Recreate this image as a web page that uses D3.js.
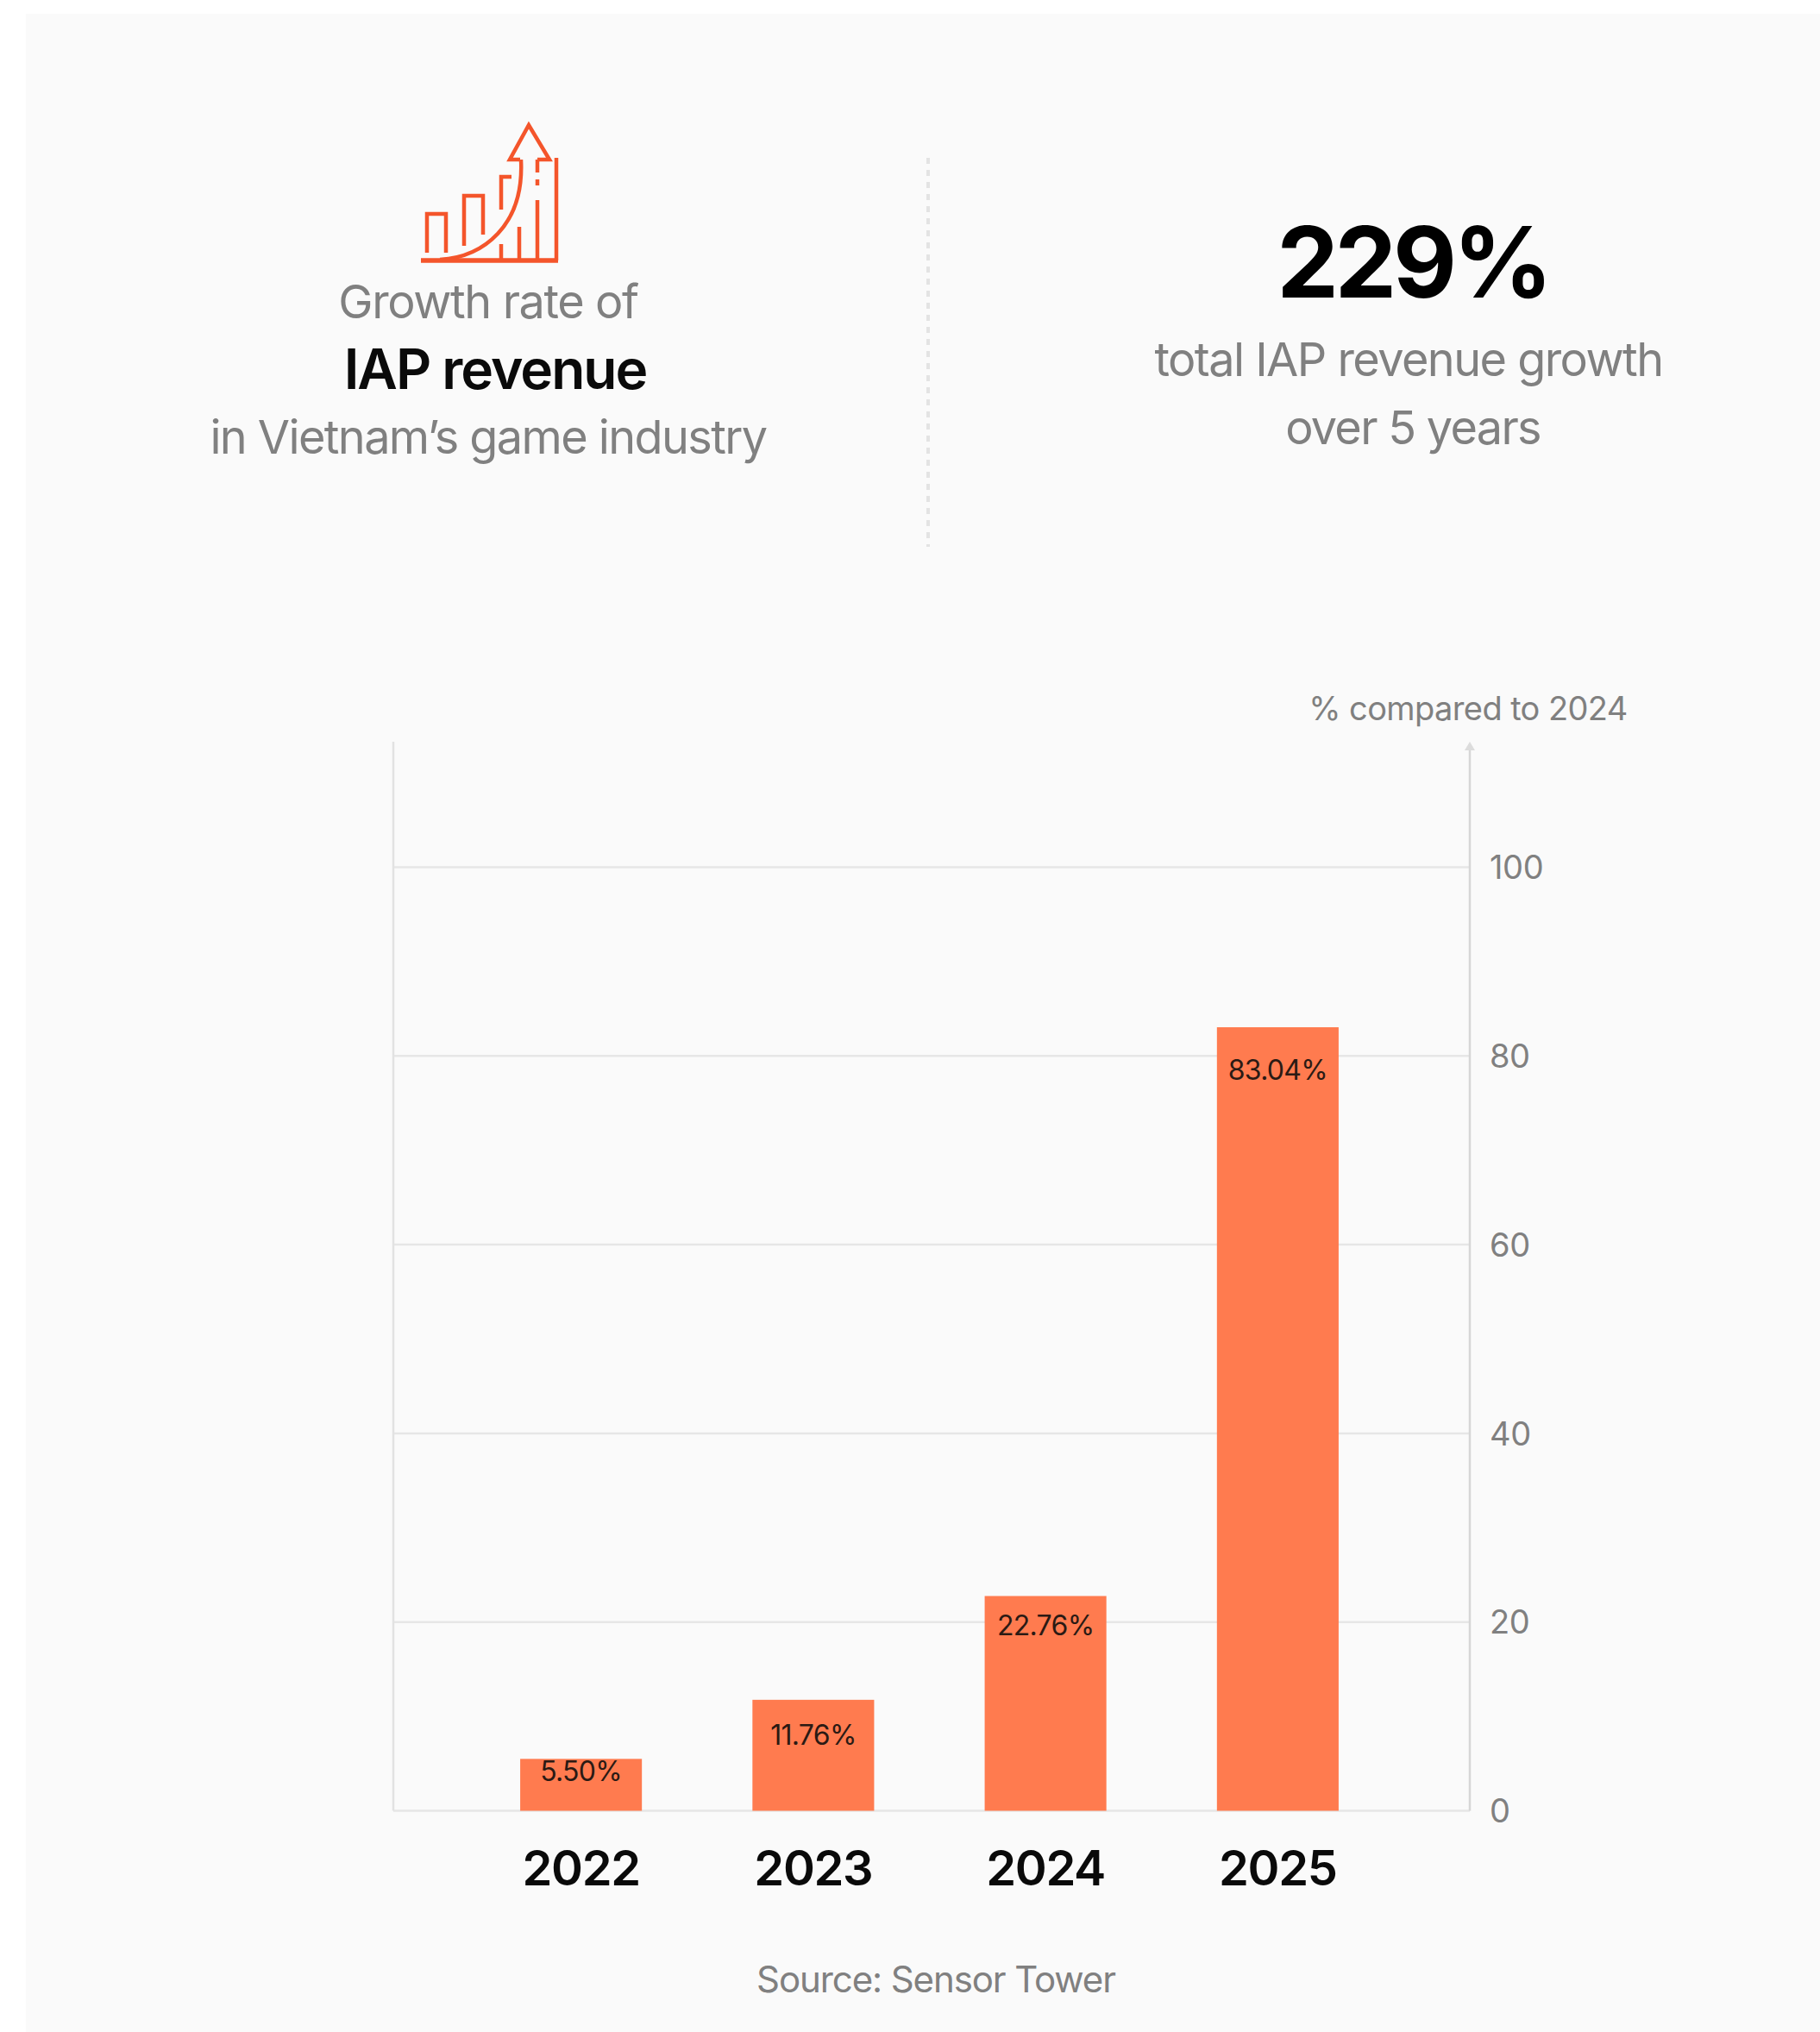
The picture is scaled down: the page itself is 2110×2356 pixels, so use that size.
<!DOCTYPE html>
<html>
<head>
<meta charset="utf-8">
<script src="https://cdn.jsdelivr.net/npm/d3@7"></script>
<style>
  html, body { margin: 0; padding: 0; background: #ffffff; }
  svg { display: block; font-family: Inter, "Noto Sans", sans-serif; }
</style>
</head>
<body>
<svg id="chart" width="2110" height="2356"></svg>
<script>
// Annual IAP revenue growth
const years = ["2022", "2023", "2024", "2025"];
const growth = [5.50, 11.76, 22.76, 83.04];
const growthLabels = ["5.50%", "11.76%", "22.76%", "83.04%"];
const yTicks = [0, 20, 40, 60, 80, 100];

// Distance from each bar top down to the centre of its label
const labelDrop = [14, 41, 34, 49];

const svg = d3.select("#chart");

svg.append("rect").attr("x", 30).attr("y", 16).attr("width", 2080).attr("height", 2340).attr("fill", "#fafafa");

const x = d3.scaleBand().domain(years).range([539, 1616]).paddingInner(0.476).paddingOuter(0.238);
const y = d3.scaleLinear().domain([0, 100]).range([2099.5, 1005.5]);

const plotLeft = 456, plotRight = 1704, axisTop = 860;

// Grid
const grid = svg.append("g").attr("class", "grid");
grid.selectAll("line").data(yTicks).join("line")
  .attr("x1", plotLeft).attr("x2", plotRight)
  .attr("y1", d => y(d)).attr("y2", d => y(d))
  .attr("stroke", "#e6e6e6").attr("stroke-width", 2.5);

// Frame: left rule and the arrowed right axis
svg.append("line").attr("x1", plotLeft).attr("x2", plotLeft).attr("y1", axisTop).attr("y2", y(0))
  .attr("stroke", "#e2e2e2").attr("stroke-width", 2.5);
svg.append("line").attr("x1", plotRight).attr("x2", plotRight).attr("y1", axisTop + 4).attr("y2", y(0))
  .attr("stroke", "#d6d6d6").attr("stroke-width", 2.5);
svg.append("path").attr("d", d3.line()([[plotRight - 6, axisTop + 10], [plotRight, axisTop], [plotRight + 6, axisTop + 10]]))
  .attr("fill", "#dcdcdc");

// Bars
svg.append("g").selectAll("rect").data(years).join("rect")
  .attr("x", d => x(d)).attr("width", x.bandwidth())
  .attr("y", (d, i) => y(growth[i]))
  .attr("height", (d, i) => y(0) - y(growth[i]))
  .attr("fill", "#ff7b4f");

// Value labels
svg.append("g").selectAll("text").data(years).join("text")
  .attr("x", d => x(d) + x.bandwidth() / 2)
  .attr("y", (d, i) => y(growth[i]) + labelDrop[i])
  .attr("dy", "0.36em")
  .attr("text-anchor", "middle")
  .attr("font-size", 32).attr("letter-spacing", -0.7).attr("fill", "#2b1a14")
  .text((d, i) => growthLabels[i]);

// Value axis labels
const yAxis = d3.axisRight(y).tickValues(yTicks).tickSize(0).tickPadding(23);
const yG = svg.append("g").attr("transform", `translate(${plotRight},1)`).call(yAxis);
yG.select(".domain").remove();
yG.selectAll("text").attr("font-family", "Inter").attr("font-size", 38).attr("letter-spacing", -0.4).attr("fill", "#808080");

// Category axis labels
const xAxis = d3.axisBottom(x).tickSize(0).tickPadding(0);
const xG = svg.append("g").attr("transform", "translate(0,2146)").call(xAxis);
xG.select(".domain").remove();
xG.selectAll("text").attr("font-family", "Inter").attr("font-size", 56).attr("font-weight", 600).attr("letter-spacing", -1.3).attr("fill", "#0a0a0a");

const label = (txt, px, py, size, weight, fill, spacing) => svg.append("text")
  .attr("x", px).attr("y", py).attr("text-anchor", "middle")
  .attr("font-size", size).attr("font-weight", weight).attr("letter-spacing", spacing).attr("fill", fill).text(txt);

label("% compared to 2024", 1702, 835, 38, 400, "#808080", -0.6);
label("Source: Sensor Tower", 1085, 2310, 42, 400, "#808080", -1.1);

// Header, left block
label("Growth rate of", 566, 369, 54, 400, "#808080", -1.4);
label("IAP revenue", 574, 451, 64, 600, "#0a0a0a", -2);
label("in Vietnam’s game industry", 566, 526, 54, 400, "#808080", -1.6);

// Header, right block
label("229%", 1638, 345, 114, 700, "#000000", -4.5);
label("total IAP revenue growth", 1633, 436, 54, 400, "#808080", -1.55);
label("over 5 years", 1638, 515, 54, 400, "#808080", -1.7);

// Dotted divider between the two blocks
svg.append("line").attr("x1", 1076).attr("x2", 1076).attr("y1", 183).attr("y2", 634)
  .attr("stroke", "#e3e3e3").attr("stroke-width", 4).attr("stroke-dasharray", "7 7");

// Growth icon
const icon = svg.append("g").attr("fill", "none").attr("stroke", "#f4552b").attr("stroke-width", 4.5);
[
  "M495,293V248H517V293",
  "M538,285V227H560V272",
  "M593,205H581V243",
  "M581,283V302",
  "M602,263V302",
  "M623,232V302",
  "M623,208V215",
  "M623,185V200",
  "M645,183V302",
  "M603,185H591L613,145L637,185H623",
  "M510,301C560,298 608,262 604,185"
].forEach(d => icon.append("path").attr("d", d));
icon.append("path").attr("d", "M488,302H647").attr("stroke-width", 5.5);
</script>
</body>
</html>
